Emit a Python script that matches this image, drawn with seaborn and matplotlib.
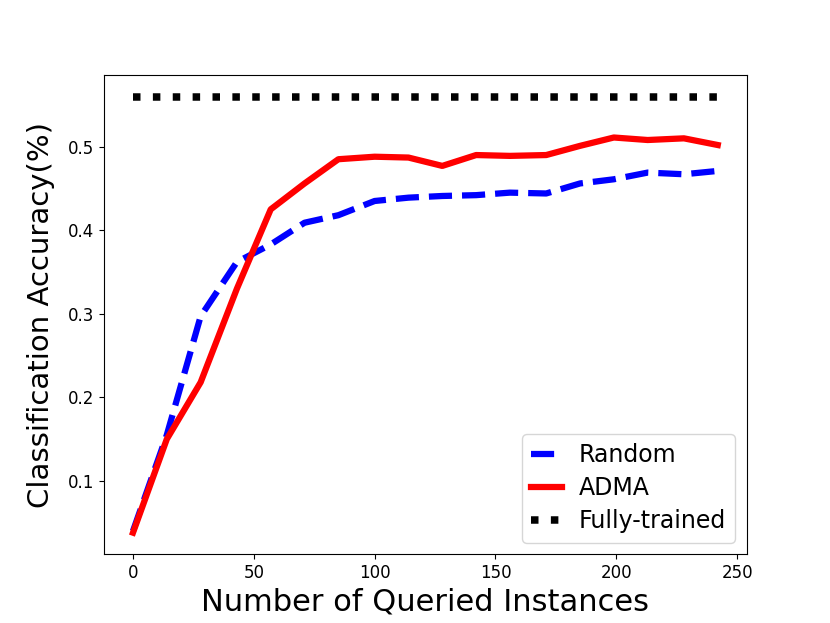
import numpy as np
import pandas as pd
import matplotlib
matplotlib.use("Agg")
import matplotlib.pyplot as plt
import seaborn as sns

# number of queried instances
queried = [0, 14, 28, 43, 57, 71, 85, 100, 114, 128, 142, 156, 171, 185, 199, 213, 228, 242]

random_acc = [0.040, 0.155, 0.297, 0.362, 0.383, 0.409, 0.418, 0.435, 0.439, 0.441,
              0.442, 0.445, 0.444, 0.456, 0.461, 0.469, 0.467, 0.471]
adma_acc = [0.038, 0.150, 0.218, 0.330, 0.425, 0.456, 0.485, 0.488, 0.487, 0.477,
            0.490, 0.489, 0.490, 0.501, 0.511, 0.508, 0.510, 0.502]
full_acc = [0.56] * len(queried)

df = pd.DataFrame({
    'queried': queried * 3,
    'acc': random_acc + adma_acc + full_acc,
    'method': ['Random'] * len(queried) + ['ADMA'] * len(queried) + ['Fully-trained'] * len(queried),
})

fig, ax = plt.subplots(figsize=(8.3, 6.23), dpi=100)

styles = {'Random': ('blue', '--', 4.5), 'ADMA': ('red', '-', 4.5), 'Fully-trained': ('black', ':', 5.4)}
for name, (color, ls, lw) in styles.items():
    sub = df[df['method'] == name]
    sns.lineplot(data=sub, x='queried', y='acc', ax=ax, color=color, linestyle=ls,
                 linewidth=lw, label=name)

ax.set_xlabel('Number of Queried Instances', fontsize=22)
ax.set_ylabel('Classification Accuracy(%)', fontsize=21, labelpad=9)
ax.set_xticks([0, 50, 100, 150, 200, 250])
ax.tick_params(labelsize=12)
ax.legend(loc='lower right', fontsize=17, handlelength=1.3, handletextpad=0.7,
          labelspacing=0.38)

plt.savefig('out.png')
plt.close()
